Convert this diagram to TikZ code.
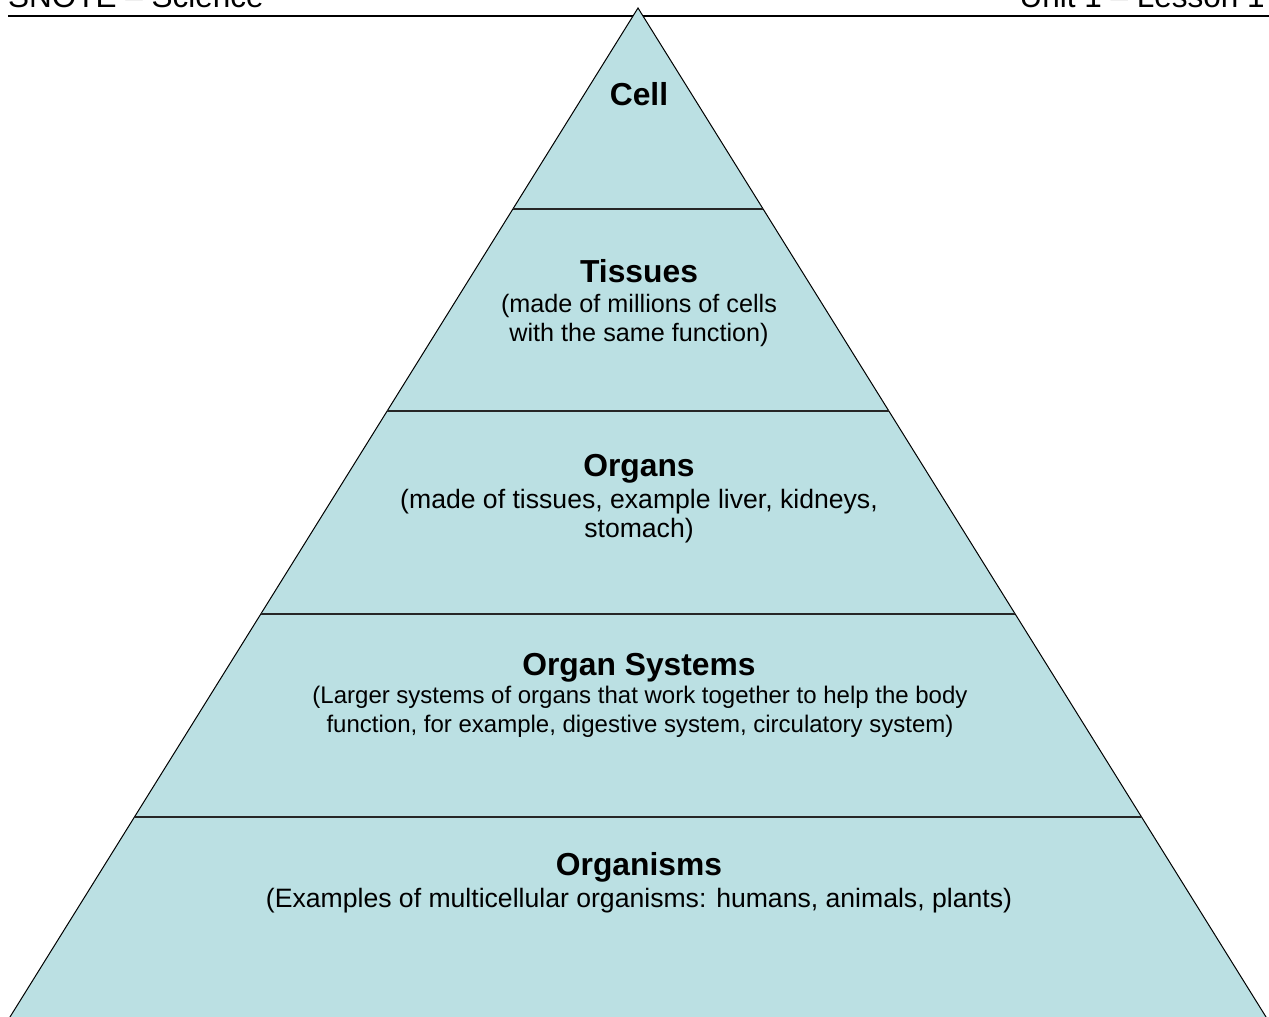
\documentclass[tikz,border=0pt]{standalone}
\usepackage{fontspec}
\setmainfont{Liberation Sans}
\usetikzlibrary{positioning}
\definecolor{pyrfill}{HTML}{BBE0E3}

\begin{document}
\begin{tikzpicture}[x=1pt,y=-1pt,
 level/.style={font=\fontsize{31.8}{36}\selectfont\bfseries,anchor=base,inner sep=0pt},
 note/.style={font=\fontsize{#1}{29}\selectfont,align=center,anchor=base,inner sep=0pt},
 note/.default=25.2,
 head/.style={font=\fontsize{31.5}{36}\selectfont,inner sep=0pt},
 band/.style={line width=1.6pt,black!85}]
\useasboundingbox (0,0) rectangle (1269,1017);
\clip (0,0) rectangle (1269,1017);
% page header
\node[head,anchor=base west] (subject) at (8,7) {SNOTE -- Science};
\node[head,anchor=base east] (lesson) at (1265,7) {Unit 1 -- Lesson 1};
\draw[line width=2pt] (8,16) -- (1269,16);
% pyramid
\coordinate (apex) at (638,8);
\coordinate (baseL) at (8.1,1020);
\coordinate (baseR) at (1267.9,1020);
\fill[pyrfill] (apex) -- (baseL) -- (baseR) -- cycle;
\draw[line width=1pt] (baseL) -- (apex) -- (baseR);
\draw[band] (513,209) -- (763,209);
\draw[band] (387.2,411) -- (888.8,411);
\draw[band] (260.8,614) -- (1015.2,614);
\draw[band] (134.5,817) -- (1141.5,817);
% levels (base of a two-line note is its last line)
\node[level] (cell) at (639,105) {Cell};
\node[level] (tissues) at (639,282) {Tissues};
\node[note] (tissuesnote) at (639,341) {(made of millions of cells\\with the same function)};
\node[level] (organs) at (639,476) {Organs};
\node[note=26.6] (organsnote) at (639,537) {(made of tissues, example liver, kidneys,\\stomach)};
\node[level] (systems) at (639,675) {Organ Systems};
\node[note=24] (systemsnote) at (640,732) {(Larger systems of organs that work together to help the body\\function, for example, digestive system, circulatory system)};
\node[level] (organisms) at (639,875) {Organisms};
\node[note=26.6] (organismsnote) at (639,907) {(Examples of multicellular organisms: humans, animals, plants)};
\end{tikzpicture}
\end{document}
